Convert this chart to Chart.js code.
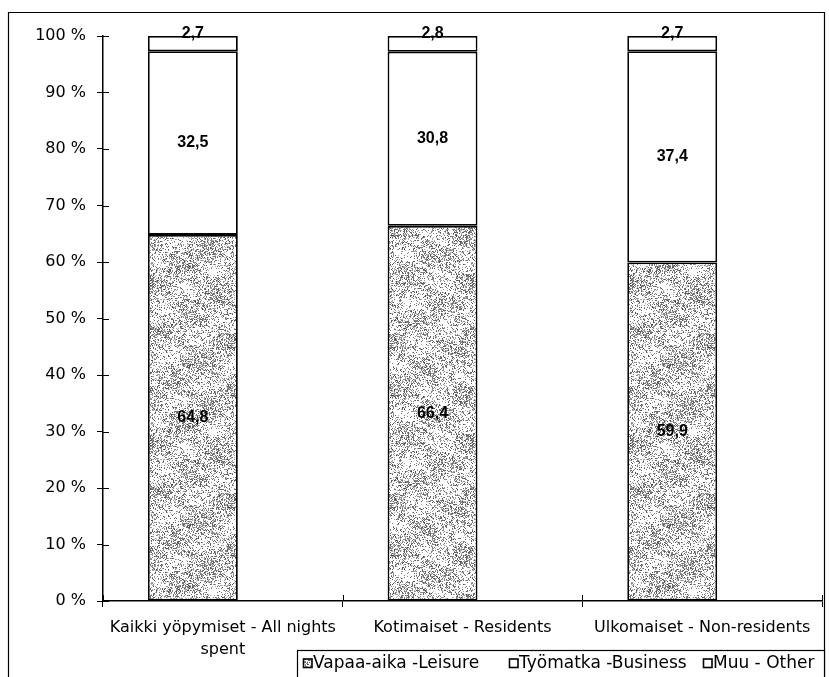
<!DOCTYPE html>
<html>
<head>
<meta charset="utf-8">
<script src="https://cdn.jsdelivr.net/npm/chart.js@4/dist/chart.umd.min.js"></script>
<style>
html,body{margin:0;padding:0;background:#fff;}
#wrap{width:829px;height:677px;position:relative;}
</style>
</head>
<body>
<div id="wrap"><canvas id="c" width="829" height="677"></canvas></div>
<script>
// ---- data ----
const categories = [['Kaikki yöpymiset - All nights', 'spent'], 'Kotimaiset - Residents', 'Ulkomaiset - Non-residents'];
const seriesNames = ['Vapaa-aika -Leisure', 'Työmatka -Business', 'Muu - Other'];
const leisure = [64.8, 66.4, 59.9];
const business = [32.5, 30.8, 37.4];
const other = [2.7, 2.8, 2.7];
const yTicks = [0, 10, 20, 30, 40, 50, 60, 70, 80, 90, 100];

// ---- stipple texture for the leisure segments ----
function makePattern() {
  const N = 160;
  const c = document.createElement('canvas');
  c.width = N; c.height = N;
  const g = c.getContext('2d');
  g.fillStyle = '#fff';
  g.fillRect(0, 0, N, N);
  const img = g.getImageData(0, 0, N, N);
  let s = 987654321;
  const rnd = () => { s = (s * 1103515245 + 12345) & 0x7fffffff; return s / 0x7fffffff; };
  const T = Math.PI * 2 / N;
  for (let y = 0; y < N; y++) {
    for (let x = 0; x < N; x++) {
      let b = 0.5 + 0.25 * Math.sin(x * T * 2 + y * T * 3) + 0.2 * Math.sin(y * T * 4 - x * T * 3) + 0.15 * Math.sin((x - 2 * y) * T * 5);
      b = Math.max(0, Math.min(1, b));
      const d = 0.14 + 0.42 * b;
      if (rnd() < d) {
        const v = 75 + Math.floor(rnd() * 110);
        const i = (y * N + x) * 4;
        img.data[i] = v; img.data[i + 1] = v; img.data[i + 2] = v;
      }
    }
  }
  g.putImageData(img, 0, 0);
  return g.createPattern(c, 'repeat');
}
const stipple = makePattern();

const fmt = v => String(v).replace('.', ',');

const barCommon = {
  stack: 'main',
  borderColor: '#000',
  borderWidth: 1.8,
  borderSkipped: false,
  categoryPercentage: 0.5,
  barPercentage: 1.5
};

const labelPlugin = {
  id: 'valueLabels',
  afterDatasetsDraw(chart) {
    const ctx = chart.ctx;
    ctx.save();
    ctx.font = 'bold 16px "Liberation Sans", Arial, sans-serif';
    ctx.fillStyle = '#000';
    ctx.textAlign = 'center';
    ctx.textBaseline = 'middle';
    for (let d = 0; d < 3; d++) {
      const meta = chart.getDatasetMeta(d);
      const ds = chart.data.datasets[d];
      meta.data.forEach((bar, i) => {
        const v = ds.data[i];
        if (v == null) return;
        const y = d === 2 ? bar.y - 2 : (bar.y + bar.base) / 2;
        ctx.fillText(fmt(v), bar.x, y);
      });
    }
    ctx.restore();
  }
};

const framePlugin = {
  id: 'frame',
  afterDraw(chart) {
    const ctx = chart.ctx;
    const a = chart.chartArea;
    const xs = chart.scales.x, ys = chart.scales.y;
    ctx.save();
    ctx.strokeStyle = '#000';
    ctx.lineWidth = 1.2;
    // outer frame
    ctx.beginPath();
    ctx.moveTo(8.5, 690); ctx.lineTo(8.5, 12.5); ctx.lineTo(824.5, 12.5); ctx.lineTo(824.5, 690);
    ctx.stroke();
    // inner parts of tick marks (crossing the axes)
    ctx.lineWidth = 1;
    ctx.beginPath();
    ys.ticks.forEach((t, i) => {
      const py = Math.round(ys.getPixelForTick(i)) + 0.5;
      ctx.moveTo(a.left, py); ctx.lineTo(a.left + 6, py);
    });
    const n = xs.ticks.length;
    for (let i = 0; i <= n; i++) {
      const px = Math.round(a.left + (a.right - a.left) * i / n) + 0.5;
      ctx.moveTo(px, a.bottom); ctx.lineTo(px, a.bottom - 6);
    }
    ctx.stroke();
    // legend
    const lx = 297.5, ly = 650.5;
    ctx.lineWidth = 1.2;
    ctx.fillStyle = '#fff';
    ctx.fillRect(lx, ly, 824.5 - lx, 40);
    ctx.strokeRect(lx, ly, 824.5 - lx, 40);
    ctx.font = '17px "DejaVu Sans", sans-serif';
    ctx.textBaseline = 'middle';
    ctx.textAlign = 'left';
    const fills = [stipple, '#fff', '#fff'];
    const starts = [303, 509, 703];
    const cy = 663.5;
    seriesNames.forEach((name, i) => {
      const x0 = starts[i];
      ctx.fillStyle = fills[i];
      ctx.fillRect(x0, cy - 5, 9, 9);
      ctx.lineWidth = 1.6;
      ctx.strokeStyle = '#000';
      ctx.strokeRect(x0 + 0.5, cy - 4.5, 8.5, 8.5);
      ctx.fillStyle = '#000';
      ctx.fillText(name, x0 + 10, cy);
    });
    ctx.restore();
  }
};

Chart.defaults.font.family = '"DejaVu Sans", sans-serif';
Chart.defaults.font.size = 16;
Chart.defaults.color = '#000';

new Chart(document.getElementById('c'), {
  type: 'bar',
  data: {
    labels: categories,
    datasets: [
      Object.assign({ label: seriesNames[0], data: leisure, backgroundColor: stipple }, barCommon),
      Object.assign({ label: seriesNames[1], data: business, backgroundColor: '#fff' }, barCommon),
      Object.assign({ label: seriesNames[2], data: other, backgroundColor: '#fff' }, barCommon),
      { label: '', data: [null, null, null], stack: 'spacer', backgroundColor: 'rgba(0,0,0,0)', borderWidth: 0,
        categoryPercentage: 0.5, barPercentage: 1.5 }
    ]
  },
  options: {
    responsive: false,
    animation: false,
    layout: { padding: { left: 8, right: 7, top: 36, bottom: 0 } },
    plugins: {
      legend: { display: false },
      tooltip: { enabled: false }
    },
    scales: {
      x: {
        stacked: true,
        offset: true,
        grid: { display: true, drawOnChartArea: false, drawTicks: true, tickLength: 6, color: '#000', lineWidth: 1, offset: true },
        border: { display: true, color: '#000', width: 1.5 },
        ticks: { maxRotation: 0, minRotation: 0, autoSkip: false, padding: 10, font: { size: 16, lineHeight: 1.35 } },
        afterFit: s => { s.height = 76; }
      },
      y: {
        stacked: true,
        min: 0,
        max: 100,
        grid: { display: true, drawOnChartArea: false, drawTicks: true, tickLength: 6, color: '#000', lineWidth: 1 },
        border: { display: true, color: '#000', width: 1.5 },
        afterBuildTicks: s => { s.ticks = yTicks.map(v => ({ value: v })); },
        ticks: { padding: 11, callback: v => v + ' %', font: { size: 16 } },
        afterFit: s => { s.width = 95; }
      }
    }
  },
  plugins: [labelPlugin, framePlugin]
});
</script>
</body>
</html>
